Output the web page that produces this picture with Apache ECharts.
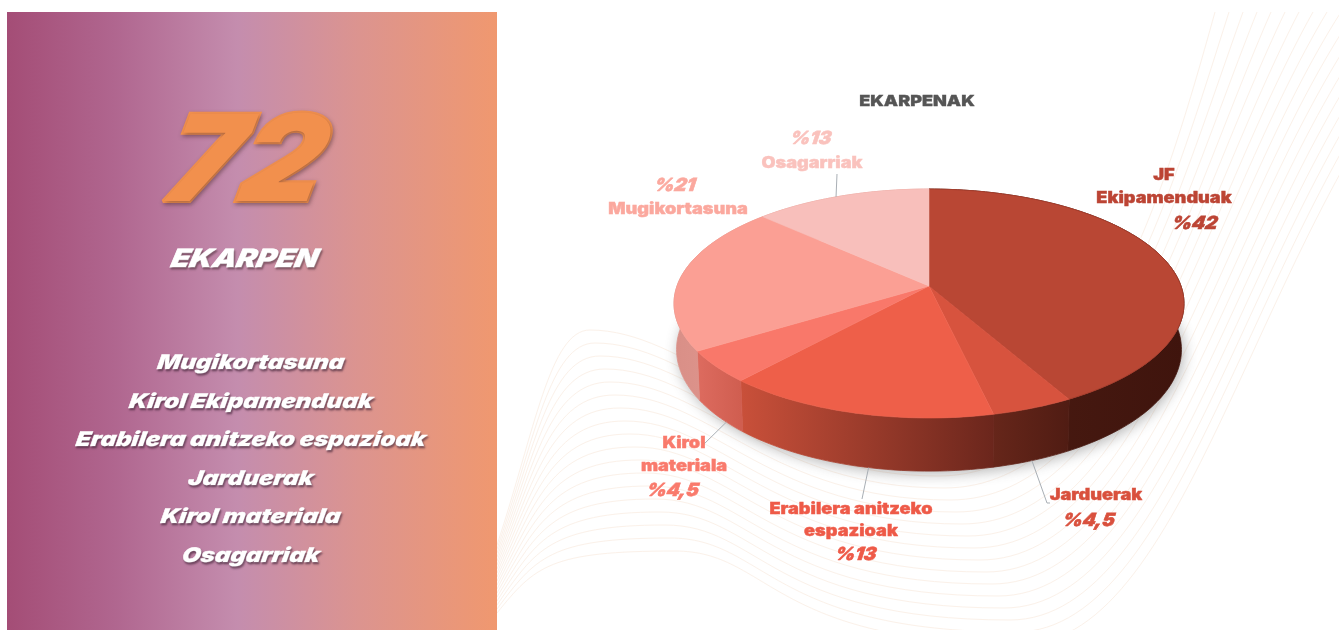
<!DOCTYPE html>
<html>
<head>
<meta charset="utf-8">
<title>Ekarpenak</title>
<script src="https://cdn.jsdelivr.net/npm/echarts@6/dist/echarts.min.js"></script>
<style>
  html, body { margin: 0; padding: 0; background: #fff; }
  #chart { width: 1339px; height: 630px; }
</style>
</head>
<body>
<div id="chart"></div>
<script>
// datuak
const categories = ['JF Ekipamenduak', 'Jarduerak', 'Erabilera anitzeko espazioak', 'Kirol materiala', 'Mugikortasuna', 'Osagarriak'];
const shareValues = [42, 4.5, 15, 4.5, 21, 13];
const shareLabels = ['%42', '%4,5', '%13', '%4,5', '%21', '%13'];
const labelLines = [['JF', 'Ekipamenduak'], ['Jarduerak'], ['Erabilera anitzeko', 'espazioak'], ['Kirol', 'materiala'], ['Mugikortasuna'], ['Osagarriak']];
const panelItems = ['Mugikortasuna', 'Kirol Ekipamenduak', 'Erabilera anitzeko espazioak', 'Jarduerak', 'Kirol materiala', 'Osagarriak'];
const totalCount = '72';
const totalName = 'EKARPEN';
const chartTitle = 'EKARPENAK';

const topColors = ['#b94734', '#d7533e', '#ee5f49', '#f9786a', '#fb9f94', '#f8bfbb'];
const labelColors = ['#bc4434', '#d9503d', '#ee5a48', '#f97a6c', '#fba89e', '#fac2bd'];
const wallColors = [['#4d1d13', '#3f140d'], ['#66261a', '#501c13'], ['#c9503a', '#6b261c'], ['#dd6b5f', '#d05e50'], ['#d98f87', '#e39a92'], ['#e39a92', '#e39a92']];

// perspektiba: zirkulua -> pantaila
const pie = { x: 929, y: 286, a: 252, b: 111.8, k: 0.153, depth: 45 };
const total = shareValues.reduce((s, v) => s + v, 0);
const starts = [];
shareValues.reduce((s, v, i) => { starts[i] = s; return s + v; }, 0);

function rimPoint(frac, down) {
    const t = frac * Math.PI * 2;
    const u = Math.sin(t), v = -Math.cos(t);
    const w = 1 - pie.k * v;
    const px = pie.x + pie.a * u / w * (down ? 0.99 : 1);
    const py = pie.y + pie.b * v / w + (down ? pie.depth / w : 0);
    return [px, py];
}
function arcPoints(from, to, down) {
    const pts = [];
    const n = Math.max(2, Math.ceil((to - from) * 240));
    for (let i = 0; i <= n; i++) pts.push(rimPoint(from + (to - from) * i / n, down));
    return pts;
}

const pieData = shareValues.map((v, i) => ({ name: categories[i], value: v }));

function renderShadow() {
    return {
        type: 'polygon',
        shape: { points: arcPoints(0, 1, true) },
        style: { fill: '#fff', shadowBlur: 14, shadowColor: 'rgba(70,70,70,0.4)', shadowOffsetX: 2, shadowOffsetY: 3 }
    };
}
function renderWall(params) {
    const i = params.dataIndex;
    const from = starts[i] / total, to = (starts[i] + shareValues[i]) / total;
    const upper = arcPoints(from, to, false);
    const lower = arcPoints(from, to, true).reverse();
    const xs = upper.map(p => p[0]);
    const x0 = Math.min(...xs), x1 = Math.max(...xs);
    const grad = new echarts.graphic.LinearGradient(x0, 0, x1, 0, [
        { offset: 0, color: wallColors[i][0] },
        { offset: 1, color: wallColors[i][1] }
    ], true);
    return {
        type: 'polygon',
        shape: { points: upper.concat(lower) },
        style: { fill: grad, stroke: grad, lineWidth: 0.8 }
    };
}
function renderTop(params) {
    const i = params.dataIndex;
    const from = starts[i] / total, to = (starts[i] + shareValues[i]) / total;
    return {
        type: 'polygon',
        shape: { points: [[pie.x, pie.y]].concat(arcPoints(from, to, false)) },
        style: { fill: topColors[i], stroke: i === 0 ? '#a63d2c' : topColors[i], lineWidth: i === 0 ? 1 : 0.6 }
    };
}
function renderLeader(params) {
    const i = params.dataIndex;
    const tail = leaderEnds[i];
    if (!tail) return null;
    const mid = (starts[i] + shareValues[i] / 2) / total + leaderNudge[i];
    // atzeko zatiak goiko ertzetik, aurrekoak beheko ertzetik
    const head = rimPoint(mid, i !== 5);
    return {
        type: 'polyline',
        shape: { points: [head].concat(tail) },
        style: { fill: 'none', stroke: '#a9afb5', lineWidth: 1 }
    };
}

// etiketen kokapena
const leaderEnds = [null, [[1047, 503], [1050, 503]], [[862, 499]], [[701, 447]], null, [[837, 174]]];
const leaderNudge = [0, 0, -0.007, -0.008, 0, -0.004];
const labelPlaces = [
    { x: 1164, lines: [175, 198], pct: [1195, 224] },
    { x: 1096, lines: [495], pct: [1089, 521] },
    { x: 851, lines: [509, 531], pct: [856, 555] },
    { x: 684, lines: [443, 466], pct: [673, 491] },
    { x: 678, lines: [209], pct: [675, 186] },
    { x: 812, lines: [163], pct: [811, 139] }
];

const sansFont = 'Inter, "Open Sans", sans-serif';
const graphics = [];

// atzeko lerroak
const waveStyle = { fill: 'none', stroke: '#fbf1e9', lineWidth: 1 };
function waveSegment(s) {
    graphics.push({
        type: 'bezierCurve', z: 0, silent: true,
        shape: { x1: s[0], y1: s[1], cpx1: s[2], cpy1: s[3], cpx2: s[4], cpy2: s[5], x2: s[6], y2: s[7] },
        style: waveStyle
    });
}
for (let i = 0; i < 18; i++) {
    const cx = 590 + i * 5, cy = 330 + i * 13;
    const tx = 920 + i * 6, ty = 440 + i * 12;
    waveSegment([497, 545 + i * 4, 535, 430 + i * 8, 550, cy, cx, cy]);
    waveSegment([cx, cy, cx + 95, cy, 770, ty, tx, ty]);
    waveSegment([tx, ty, tx + 170, ty, tx + 240, 210, 1215 + i * 14, 12]);
}

// ezkerreko panela
graphics.push({
    type: 'rect', z: 1, silent: true,
    shape: { x: 7, y: 12, width: 490, height: 618 },
    style: {
        fill: new echarts.graphic.LinearGradient(0, 0, 1, 0, [
            { offset: 0, color: '#a44d76' },
            { offset: 0.22, color: '#b0668f' },
            { offset: 0.47, color: '#c48dae' },
            { offset: 0.72, color: '#dc948f' },
            { offset: 1, color: '#f0986f' }
        ])
    }
});
graphics.push({
    type: 'text', z: 2, x: 246, y: 165, scaleX: 1.06, skewX: -0.2, silent: true,
    style: {
        text: totalCount, font: 'italic 900 120px ' + sansFont, fill: '#f2904d',
        stroke: '#f2904d', lineWidth: 4,
        align: 'center', verticalAlign: 'middle',
        textShadowColor: 'rgba(70,40,40,0.4)', textShadowBlur: 4, textShadowOffsetX: 1, textShadowOffsetY: 2
    }
});
graphics.push({
    type: 'text', z: 2, x: 245, y: 259, scaleX: 1.2, skewX: -0.22, silent: true,
    style: {
        text: totalName, font: 'italic 900 25px ' + sansFont, fill: '#fff', stroke: '#fff', lineWidth: 0.8,
        align: 'center', verticalAlign: 'middle',
        textShadowColor: 'rgba(70,40,50,0.5)', textShadowBlur: 2, textShadowOffsetX: 1, textShadowOffsetY: 2
    }
});
panelItems.forEach((name, i) => {
    graphics.push({
        type: 'text', z: 2, x: 251, y: 363 + i * 38.6, scaleX: 1.2, skewX: -0.15, silent: true,
        style: {
            text: name, font: 'italic 900 20px ' + sansFont, fill: '#fff', stroke: '#fff', lineWidth: 0.5,
            align: 'center', verticalAlign: 'middle',
            textShadowColor: 'rgba(60,30,50,0.6)', textShadowBlur: 2, textShadowOffsetX: 1, textShadowOffsetY: 2
        }
    });
});

// etiketak
graphics.push({
    type: 'text', z: 20, x: 917, y: 101, scaleX: 1.2, silent: true,
    style: { text: chartTitle, font: '900 15px ' + sansFont, fill: '#555', stroke: '#555', lineWidth: 0.3, align: 'center', verticalAlign: 'middle' }
});
labelPlaces.forEach((p, i) => {
    labelLines[i].forEach((line, j) => {
        graphics.push({
            type: 'text', z: 20, x: p.x, y: p.lines[j], scaleX: 1.17, silent: true,
            style: { text: line, font: '900 15.5px ' + sansFont, fill: labelColors[i], stroke: labelColors[i], lineWidth: 0.4, align: 'center', verticalAlign: 'middle' }
        });
    });
    graphics.push({
        type: 'text', z: 20, x: p.pct[0], y: p.pct[1], scaleX: 1.05, skewX: -0.15, silent: true,
        style: { text: shareLabels[i], font: 'italic 900 18px ' + sansFont, fill: labelColors[i], stroke: labelColors[i], lineWidth: 0.6, align: 'center', verticalAlign: 'middle' }
    });
});

const option = {
    animation: false,
    backgroundColor: '#fff',
    graphic: { elements: graphics },
    series: [
        { type: 'custom', name: 'itzala', coordinateSystem: 'none', z: 5, silent: true, data: [0], renderItem: renderShadow },
        { type: 'custom', name: 'hormak', coordinateSystem: 'none', z: 6, silent: true, data: pieData, renderItem: renderWall },
        { type: 'custom', name: 'Ekarpenak', coordinateSystem: 'none', z: 7, silent: true, data: pieData, renderItem: renderTop },
        { type: 'custom', name: 'lerroak', coordinateSystem: 'none', z: 8, silent: true, data: pieData, renderItem: renderLeader }
    ]
};

const myChart = echarts.init(document.getElementById('chart'), null, { renderer: 'canvas' });
myChart.setOption(option);
</script>
</body>
</html>
